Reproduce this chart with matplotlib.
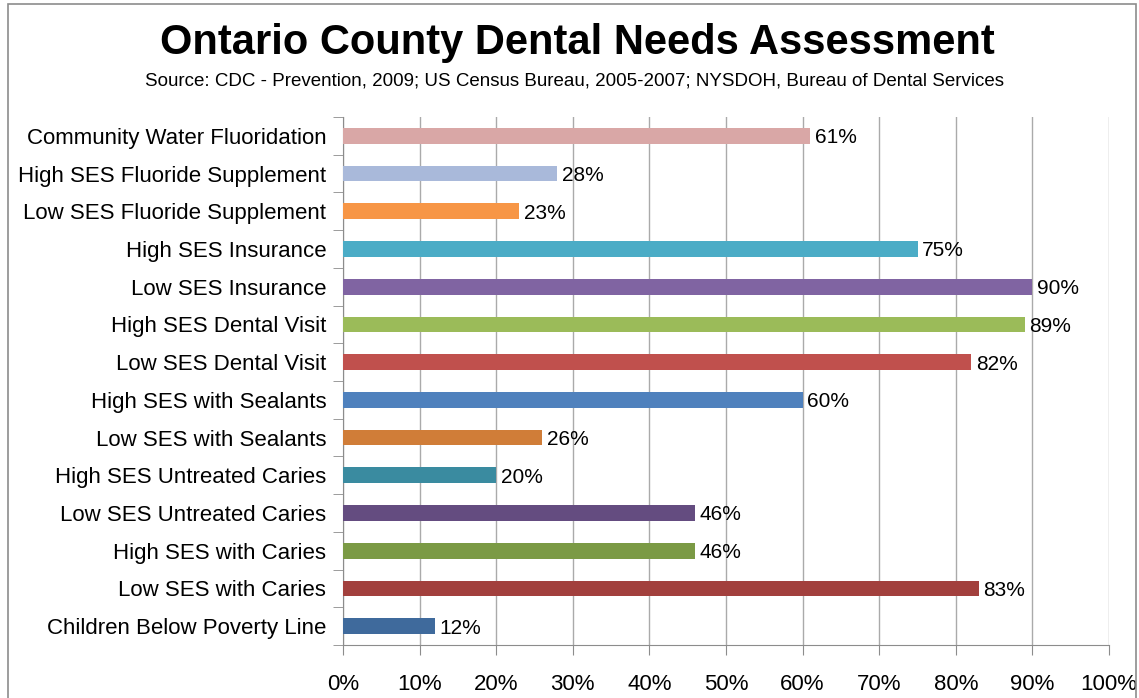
import matplotlib.pyplot as plt
from matplotlib.patches import Rectangle
from matplotlib.ticker import FixedLocator, PercentFormatter

plt.rcParams['font.family'] = ['Liberation Sans', 'DejaVu Sans']

# categories listed bottom to top
categories = [
    "Children Below Poverty Line",
    "Low SES with Caries",
    "High SES with Caries",
    "Low SES Untreated Caries",
    "High SES Untreated Caries",
    "Low SES with Sealants",
    "High SES with Sealants",
    "Low SES Dental Visit",
    "High SES Dental Visit",
    "Low SES Insurance",
    "High SES Insurance",
    "Low SES Fluoride Supplement",
    "High SES Fluoride Supplement",
    "Community Water Fluoridation",
]
values = [12, 83, 46, 46, 20, 26, 60, 82, 89, 90, 75, 23, 28, 61]
colors = [
    "#3F6A9C", "#A2403D", "#7B9A45", "#644C80", "#3A8BA0", "#D07D38",
    "#4F81BD", "#C0504D", "#9BBB59", "#8064A2", "#4BACC6", "#F79646",
    "#A9B9DA", "#D9A7A6",
]
xticks = [0, 10, 20, 30, 40, 50, 60, 70, 80, 90, 100]

fig = plt.figure(figsize=(11.39, 6.98), dpi=100)
ax = fig.add_axes([343 / 1139, 1 - 645 / 698, (1109 - 343) / 1139, (645 - 117) / 698])

# outer border
fig.patches.append(Rectangle((8 / 1139, 1 - 700 / 698), 1128 / 1139, 696 / 698,
                             transform=fig.transFigure, fill=False,
                             edgecolor="#8C8C8C", linewidth=1.2))

pos = list(range(len(categories)))
ax.barh(pos, values, height=0.42, color=colors, zorder=3)
for p, v in zip(pos, values):
    ax.text(v + 0.6, p, f"{v}%", va="center_baseline", ha="left", fontsize=15, zorder=4)

ax.set_xlim(0, 100)
ax.set_ylim(-0.5, len(categories) - 0.5)
ax.set_xticks(xticks)
ax.xaxis.set_major_formatter(PercentFormatter(decimals=0))
ax.set_yticks(pos)
ax.set_yticklabels(categories)
ax.yaxis.set_minor_locator(FixedLocator([i - 0.5 for i in range(len(categories) + 1)]))
ax.tick_params(axis="y", which="major", length=0, pad=12, labelsize=16)
ax.tick_params(axis="y", which="minor", length=7, color="#8C8C8C", direction="out")
ax.tick_params(axis="x", length=7, color="#8C8C8C", direction="out", pad=14, labelsize=16)

ax.grid(axis="x", color="#AAAAAA", linewidth=1, zorder=0)
for s in ["top", "right"]:
    ax.spines[s].set_visible(False)
for s in ["left", "bottom"]:
    ax.spines[s].set_color("#8C8C8C")

fig.text(577 / 1139, 1 - 43 / 698, "Ontario County Dental Needs Assessment",
         ha="center", va="center", fontsize=30, fontweight="bold")
fig.text(574 / 1139, 1 - 81 / 698,
         "Source: CDC - Prevention, 2009; US Census Bureau, 2005-2007; NYSDOH, Bureau of Dental Services",
         ha="center", va="center", fontsize=13.5)

fig.savefig("out.png", dpi=100)
